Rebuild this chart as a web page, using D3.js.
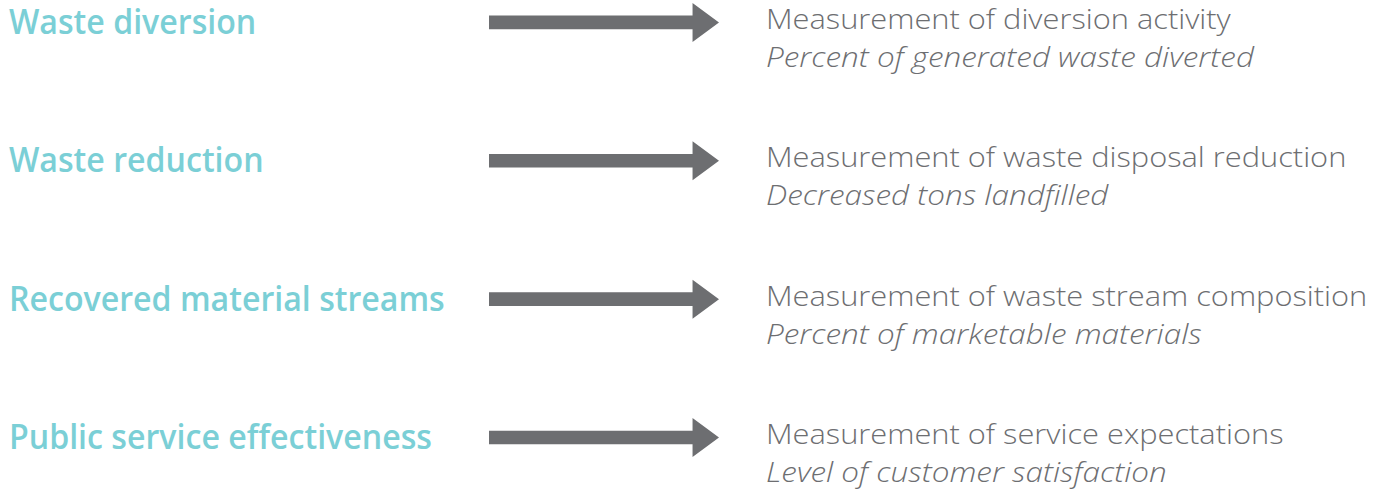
<!DOCTYPE html>
<html>
<head>
<meta charset="utf-8">
<script src="https://cdn.jsdelivr.net/npm/d3@7"></script>
<style>
body{margin:0;background:#fff;}
svg{display:block;}
.title{font-family:"Open Sans",sans-serif;font-weight:600;fill:#7bcfd6;}
.measure{font-family:"Open Sans",sans-serif;font-weight:300;fill:#6d6e71;}
.metric{font-family:"Open Sans",sans-serif;font-weight:300;font-style:italic;fill:#6d6e71;}
</style>
</head>
<body>
<div class="viz"></div>
<script>
// chart content
const categories=["Waste diversion","Waste reduction","Recovered material streams","Public service effectiveness"];
const measures=["Measurement of diversion activity","Measurement of waste disposal reduction","Measurement of waste stream composition","Measurement of service expectations"];
const metrics=["Percent of generated waste diverted","Decreased tons landfilled","Percent of marketable materials","Level of customer satisfaction"];

const width=1377;
const height=494;

const rows=categories.map((c,i)=>({category:c,measure:measures[i],metric:metrics[i]}));

const svg=d3.select('.viz').append('svg')
	.attr('width',width)
	.attr('height',height)

// row centre lines
const y=d3.scalePoint()
	.domain(categories)
	.range([22.4,437.5])

// arrow shape along x
const x=d3.scaleLinear()
	.domain([0,1])
	.range([489,719])

const headStart=0.885; // where the arrow head begins, fraction of length
const shaftHalf=6.8;
const headHalf=19.5;

const arrow=d3.line()

const g=svg.selectAll('g.row')
	.data(rows)
	.join('g')
	.attr('class','row')
	.attr('transform',d=>`translate(0,${y(d.category)})`)

g.append('path')
	.attr('fill','#6d6e71')
	.attr('d',()=>arrow([
		[x(0),-shaftHalf],
		[x(headStart),-shaftHalf],
		[x(headStart),-headHalf],
		[x(1),0],
		[x(headStart),headHalf],
		[x(headStart),shaftHalf],
		[x(0),shaftHalf]
	])+'Z')

// the original face is narrower for titles and wider for the right column
g.append('text')
	.attr('class','title')
	.attr('transform','translate(9,11.5) scale(0.945,1)')
	.attr('font-size',34)
	.text(d=>d.category)

g.append('text')
	.attr('class','measure')
	.attr('transform','translate(766,6.5) scale(1.10,1)')
	.attr('font-size',28)
	.text(d=>d.measure)

g.append('text')
	.attr('class','metric')
	.attr('transform','translate(766,44.5) scale(1.125,1)')
	.attr('font-size',28)
	.text(d=>d.metric)
</script>
</body>
</html>
